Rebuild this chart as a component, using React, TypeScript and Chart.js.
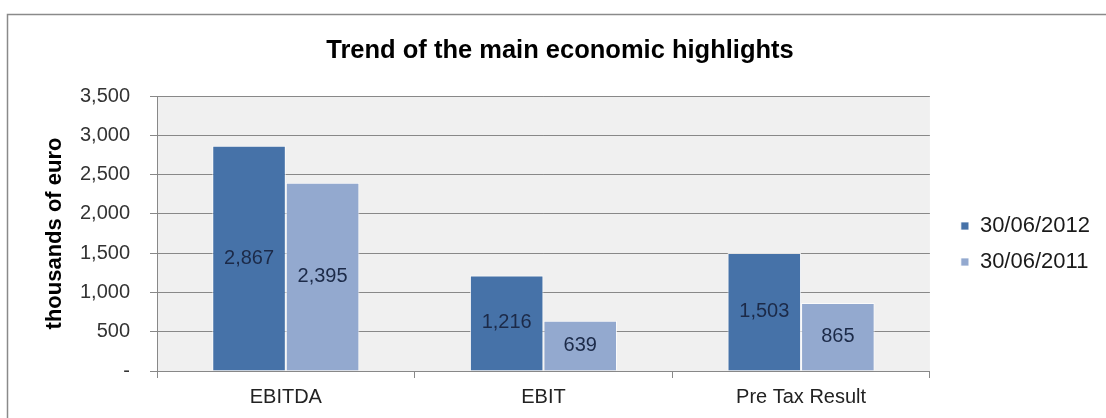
import React, { useEffect, useRef } from "react";
import { Chart, registerables } from "chart.js";

Chart.register(...registerables);

const chartTitle = "Trend of the main economic highlights";
const yAxisTitle = "thousands of euro";
const categories = ["EBITDA", "EBIT", "Pre Tax Result"];
const seriesNames = ["30/06/2012", "30/06/2011"];
const values2012 = [2867, 1216, 1503];
const values2011 = [2395, 639, 865];
const yTicks = [0, 500, 1000, 1500, 2000, 2500, 3000, 3500];

const FONT = 'Arial, "Liberation Sans", sans-serif';
const DARK = "#4672a8";
const LIGHT = "#93a9cf";

const fmt = (v: number) => (v === 0 ? "-" : v.toLocaleString("en-US"));

const framePlugin = {
  id: "frame",
  beforeDraw(chart: any) {
    const { ctx, chartArea } = chart;
    ctx.save();
    ctx.fillStyle = "#f0f0f0";
    ctx.fillRect(chartArea.left, chartArea.top, chartArea.right - chartArea.left, chartArea.bottom - chartArea.top);
    ctx.strokeStyle = "#8a8a8a";
    ctx.lineWidth = 1.5;
    ctx.strokeRect(7.5, 14.5, 1400, 800);
    ctx.restore();
  },
};

const valueLabelPlugin = {
  id: "valueLabels",
  afterDatasetsDraw(chart: any) {
    const { ctx } = chart;
    ctx.save();
    ctx.font = `20px ${FONT}`;
    ctx.fillStyle = "#1c2a48";
    ctx.textAlign = "center";
    ctx.textBaseline = "middle";
    chart.data.datasets.forEach((ds: any, i: number) => {
      const meta = chart.getDatasetMeta(i);
      meta.data.forEach((el: any, j: number) => {
        const v = ds.data[j] as number;
        ctx.fillText(fmt(v), el.x, (el.y + el.base) / 2);
      });
    });
    ctx.restore();
  },
};

export default function App() {
  const ref = useRef<HTMLCanvasElement | null>(null);

  useEffect(() => {
    if (!ref.current) return;
    const chart = new Chart(ref.current, {
      type: "bar",
      data: {
        labels: categories,
        datasets: [
          {
            label: seriesNames[0],
            data: values2012,
            backgroundColor: DARK,
            borderColor: "rgba(255,255,255,0.75)",
            borderWidth: 1,
            categoryPercentage: 0.571,
            barPercentage: 1.0,
          },
          {
            label: seriesNames[1],
            data: values2011,
            backgroundColor: LIGHT,
            borderColor: "rgba(255,255,255,0.75)",
            borderWidth: 1,
            categoryPercentage: 0.571,
            barPercentage: 1.0,
          },
        ],
      },
      options: {
        responsive: false,
        animation: false,
        layout: { padding: { left: 20, right: 6, top: 20, bottom: 0 } },
        plugins: {
          title: {
            display: true,
            text: chartTitle,
            color: "#000",
            font: { family: FONT, size: 25.5, weight: "bold" },
            padding: { top: 16, bottom: 29.4 },
          },
          legend: {
            position: "right",
            align: "center",
            title: { display: true, text: " ", font: { family: FONT, size: 10 }, padding: { top: 19, bottom: 19 } },
            labels: {
              boxWidth: 8,
              boxHeight: 8,
              padding: 14,
              color: "#1a1a1a",
              font: { family: FONT, size: 22 },
            },
          },
          tooltip: { enabled: false },
        },
        scales: {
          x: {
            grid: { display: true, drawOnChartArea: false, drawTicks: true, tickLength: 7, color: "#888", offset: true },
            border: { display: true, color: "#888", width: 1 },
            ticks: { color: "#222", font: { family: FONT, size: 20 }, padding: 7 },
            afterFit: (s: any) => {
              s.height = 47;
            },
          },
          y: {
            min: 0,
            max: 3500,
            afterBuildTicks: (s: any) => {
              s.ticks = yTicks.map((v) => ({ value: v }));
            },
            ticks: {
              color: "#333",
              font: { family: FONT, size: 20 },
              padding: 20,
              callback: (v: any) => fmt(Number(v)),
            },
            grid: { color: "#888", tickLength: 7, drawTicks: true },
            border: { display: true, color: "#888" },
            title: {
              display: true,
              text: yAxisTitle,
              color: "#000",
              font: { family: FONT, size: 22, weight: "bold" },
              padding: { top: 22, bottom: 0 },
            },
            afterFit: (s: any) => {
              s.width = 137;
            },
          },
          r: {
            position: "right",
            display: true,
            grid: { display: false },
            border: { display: false },
            ticks: { display: false },
            afterFit: (s: any) => {
              s.width = 17;
            },
          },
        },
      } as any,
      plugins: [framePlugin, valueLabelPlugin],
    });
    return () => chart.destroy();
  }, []);

  return (
    <div style={{ position: "absolute", left: 0, top: 0, width: 1106, height: 418, overflow: "hidden", background: "#fff" }}>
      <canvas ref={ref} width={1106} height={418} style={{ display: "block" }} />
    </div>
  );
}
